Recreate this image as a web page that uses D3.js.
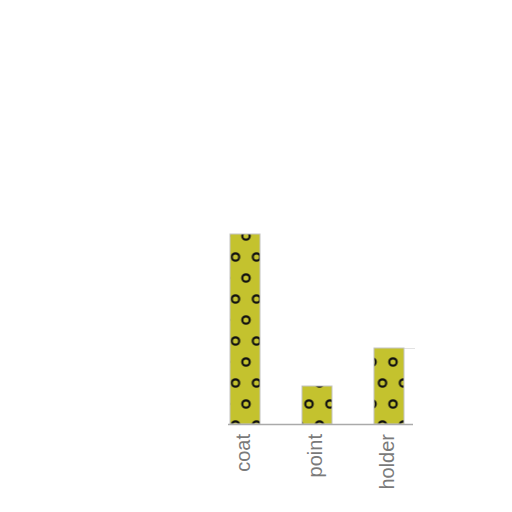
<!DOCTYPE html>
<html>
<head>
<meta charset="utf-8">
<script src="https://cdn.jsdelivr.net/npm/d3@7"></script>
<style>
html,body{margin:0;padding:0;background:#fff;}
svg{display:block;}
</style>
</head>
<body>
<script>
const categories = ["coat", "point", "holder"];
const values = [10, 2, 4];

const W = 512, H = 512;
const svg = d3.select("body").append("svg").attr("width", W).attr("height", H);

const defs = svg.append("defs");
const pat = defs.append("pattern")
  .attr("id", "dots")
  .attr("patternUnits", "userSpaceOnUse")
  .attr("x", 4.5).attr("y", 5)
  .attr("width", 21).attr("height", 42);
pat.append("rect").attr("width", 21).attr("height", 42).attr("fill", "#c4c22e");
[[0,0],[21,0],[0,42],[21,42],[10.5,21]].forEach(([cx,cy]) => {
  pat.append("circle").attr("cx", cx).attr("cy", cy).attr("r", 3.7)
    .attr("fill", "none").attr("stroke", "#111").attr("stroke-width", 2.2);
});

const x = d3.scaleBand().domain(categories).range([230, 404]).paddingInner(0.583).paddingOuter(0);
const y = d3.scaleLinear().domain([0, 10]).range([424, 234]);

// faint reference line near holder top
svg.append("line")
  .attr("x1", x("holder")).attr("x2", x("holder") + x.bandwidth() + 11)
  .attr("y1", y(values[2]) + 0.5).attr("y2", y(values[2]) + 0.5)
  .attr("stroke", "#e2e2e2").attr("stroke-width", 1);

svg.append("g").selectAll("rect")
  .data(categories)
  .join("rect")
  .attr("x", d => x(d))
  .attr("y", (d, i) => y(values[i]))
  .attr("width", x.bandwidth())
  .attr("height", (d, i) => y(0) - y(values[i]))
  .attr("fill", "url(#dots)")
  .attr("stroke", "#c4c4c4")
  .attr("stroke-width", 1);

// x axis baseline
svg.append("line")
  .attr("x1", x.range()[0] - 2).attr("x2", x.range()[1] + 9)
  .attr("y1", y(0) + 0.5).attr("y2", y(0) + 0.5)
  .attr("stroke", "#aaaaaa").attr("stroke-width", 1.5);

svg.append("g").selectAll("text")
  .data(categories)
  .join("text")
  .attr("transform", d => `translate(${x(d) + x.bandwidth() / 2},434) rotate(-90)`)
  .attr("dy", 5)
  .attr("text-anchor", "end")
  .attr("font-family", "Liberation Sans, Arial, sans-serif")
  .attr("font-size", 20)
  .attr("fill", "#7a7a7a")
  .text(d => d);
</script>
</body>
</html>
